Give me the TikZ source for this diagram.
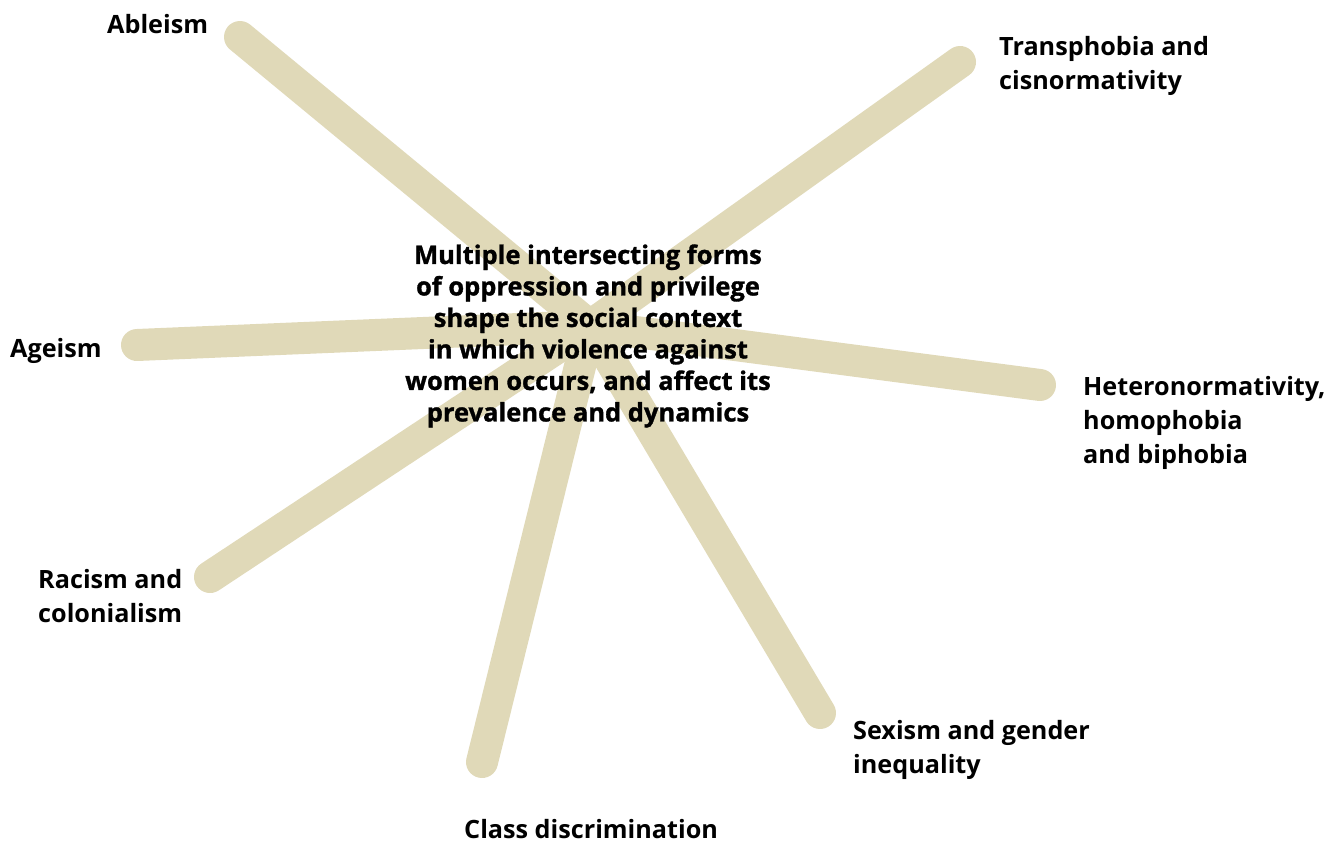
\documentclass[tikz,border=0pt]{standalone}
\usepackage{fontspec}
\setmainfont{Open Sans}
\newfontfamily\heavyfont[BoldFeatures={FakeBold=1.2}]{Open Sans}
\definecolor{spokebeige}{RGB}{224,217,184}

\tikzset{x=1pt, y=-1pt}
\tikzset{spoke/.style={line width=32pt, draw=spokebeige, line cap=round},
  lbl/.style={font=\bfseries\fontsize{25.2}{34}\selectfont, align=left, anchor=west, inner sep=0pt},
  hubtext/.style={font=\heavyfont\bfseries\fontsize{25.5}{31.5}\selectfont, align=center, inner sep=0pt}}

\begin{document}
\begin{tikzpicture}
\useasboundingbox (0,0) rectangle (1332,843);
\coordinate (hub) at (590,326);
% ends of the spokes
\foreach \n/\x/\y in {abl/240/37, tra/960/62, age/137/345, het/1040/385,
                     rac/210/577, cla/482/762, sex/820/713}
  \coordinate (\n) at (\x,\y);
\foreach \n in {abl,tra,age,het,rac,cla,sex}
  \draw[spoke] (\n) -- (hub);

\node[hubtext] (main) at (588,336) {Multiple intersecting forms\\
  of oppression and privilege\\ shape the social context\\
  in which violence against\\ women occurs, and affect its\\
  prevalence and dynamics};

\node[lbl] (ableism) at (107,24) {Ableism};
\node[lbl] (trans) at (999,66) {Transphobia and\\cisnormativity};
\node[lbl] (ageism) at (10,351) {Ageism};
\node[lbl] (hetero) at (1083,423) {Heteronormativity,\\homophobia\\and biphobia};
\node[lbl] (racism) at (38,596) {Racism and\\colonialism};
\node[lbl] (class) at (464,829) {Class discrimination};
\node[lbl] (sexism) at (853,750) {Sexism and gender\\inequality};
\end{tikzpicture}
\end{document}
